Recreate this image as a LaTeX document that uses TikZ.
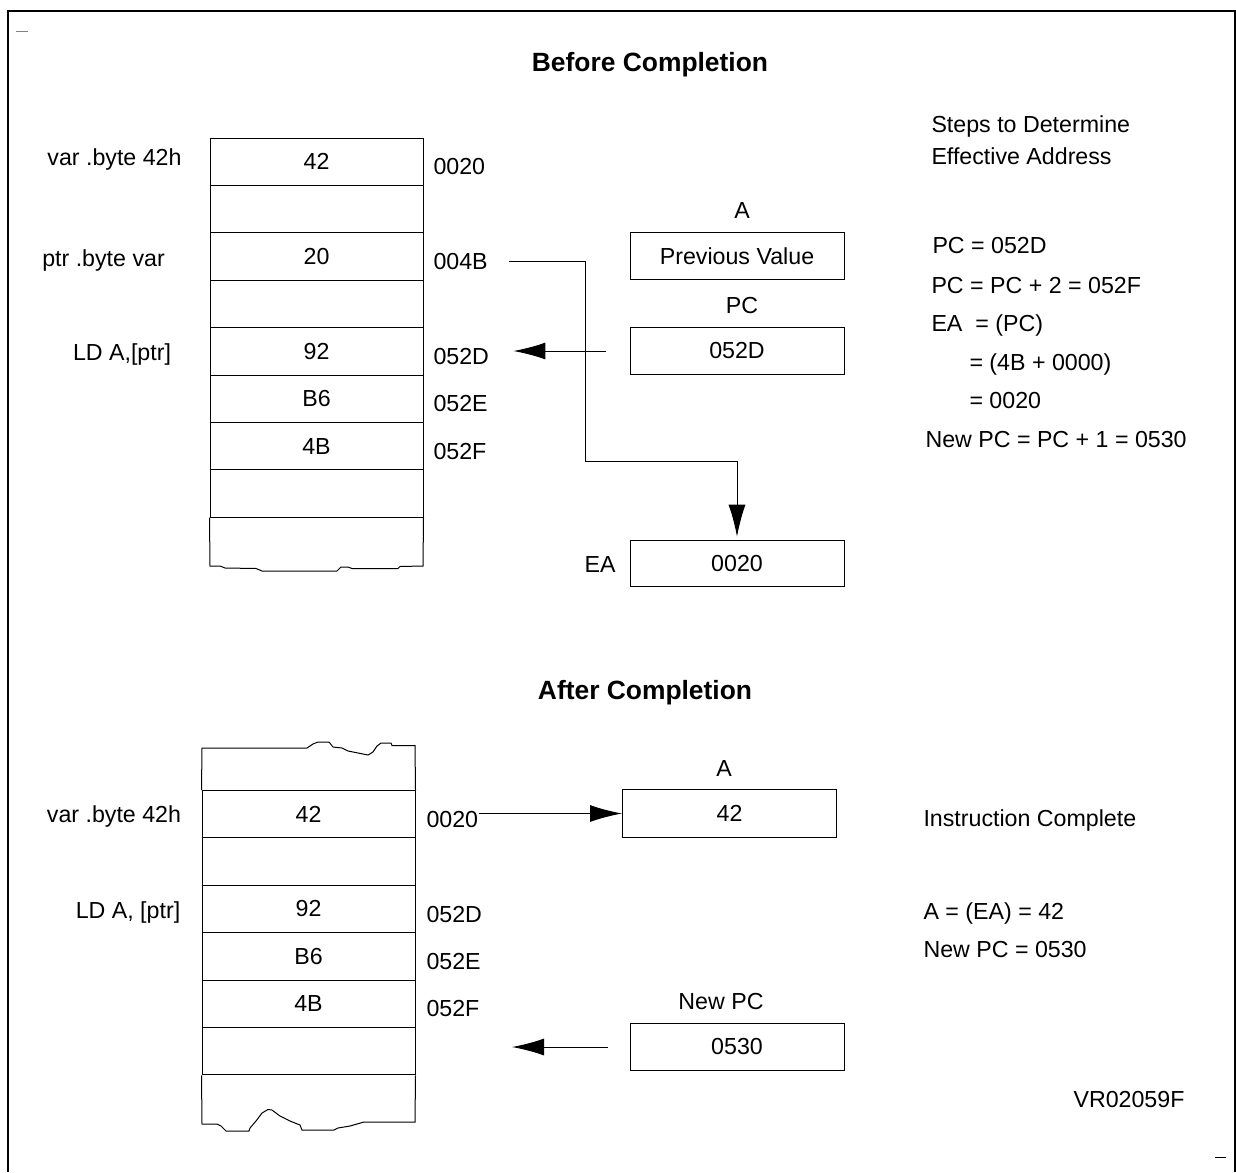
\documentclass[tikz,border=0pt]{standalone}
\usepackage{fontspec}
\setmainfont{Liberation Sans}
\usetikzlibrary{arrows.meta,positioning}

\tikzset{
  cell/.style={draw,minimum width=106.5pt,minimum height=23.7pt,inner sep=0pt},
  box/.style={draw,minimum width=107pt,minimum height=23.8pt,inner sep=0pt},
  txt/.style={inner sep=0pt,text depth=0pt},
  addr/.style={txt,anchor=west},
  ptr/.style={-{Latex[length=16pt,width=8.5pt]}},
  title/.style={txt,font=\fontsize{13.2}{16}\selectfont\bfseries}
}

\begin{document}
\begin{tikzpicture}[x=0.5pt,y=-0.5pt,line width=0.5pt,font=\fontsize{11.6}{14}\selectfont]
\useasboundingbox (0,0) rectangle (1236,1172);
\draw[line width=1pt] (8,1172) -- (8,11) -- (1235,11) -- (1235,1172);
\draw[gray] (16,32) -- (28,32);
\draw (1215,1157) -- (1226,1157);

% before completion
\node[title] (before) at (650,62) {Before Completion};
\foreach \i/\v in {1/42,2/,3/20,4/,5/92,6/B6,7/4B,8/}
  \node[cell] (top\i) at (316.5,{138+47.4*(\i-0.5)}) {\v};
\draw (top8.south west) -- (210,566) -- (220,566) -- (225,568) -- (256,568.5) -- (262,571)
  -- (337,571) -- (341,567) -- (348,567) -- (352,568.5) -- (398,568.5) -- (400,566.5)
  -- (423,566) -- (top8.south east);
\foreach \i/\a in {1/0020,3/004B,5/052D,6/052E,7/052F}
  \node[addr] (ta\i) at (433,{138+47.4*(\i-0.5)+5}) {\a};
\node[txt] (tvar) at (114.5,157) {var .byte 42h};
\node[txt] (tptr) at (103.5,258) {ptr .byte var};
\node[txt] (tld) at (122,352) {LD A,[ptr]};

\node[txt] (alab) at (742,211) {A};
\node[box] (aval) at (737,256) {Previous Value};
\node[txt] (pclab) at (742,305) {PC};
\node[box] (pc) at (737,351) {052D};
\node[txt] (ealab) at (600,565) {EA};
\node[box,minimum height=23.3pt] (ea) at (737,563.5) {0020};
\coordinate (bend) at (585,461);
\draw[ptr,shorten <=12pt,shorten >=12pt] (pc.west) -- (pc.west -| ta5.east);
\draw[ptr,shorten <=10.5pt,shorten >=1.5pt] (ta3.east) -| (bend) -| (ea.north);

\node[addr] (s1) at (931,124) {Steps to Determine};
\node[addr] (s2) at (931,156) {Effective Address};
\node[addr] (s3) at (932,245) {PC = 052D};
\node[addr] (s4) at (931,285) {PC = PC + 2 = 052F};
\node[addr] (s5) at (931,323) {EA\ \ = (PC)};
\node[addr] (s6) at (969,362) {= (4B + 0000)};
\node[addr] (s7) at (969,400) {= 0020};
\node[addr] (s8) at (925,439) {New PC = PC + 1 = 0530};

% after completion
\node[title] (after) at (645,690) {After Completion};
\foreach \i/\v in {1/42,2/,3/92,4/B6,5/4B,6/}
  \node[cell] (bot\i) at (308.5,{790.5+47.4*(\i-0.5)}) {\v};
\draw (bot1.north west) -- (202,748) -- (307,748) -- (313,744) -- (318,742) -- (329,742)
  -- (333,747) -- (342,748) -- (348,751) -- (358,753) -- (368,755) -- (373,752) -- (377,746)
  -- (381,743) -- (391,743) -- (392,745.5) -- (415,745.5) -- (bot1.north east);
\draw (bot6.south west) -- (202,1124) -- (217,1124) -- (221,1126) -- (226,1131) -- (249,1131)
  -- (250,1128) -- (256,1121) -- (262,1113) -- (268,1109.5) -- (272,1110) -- (280,1116)
  -- (290,1121) -- (300,1125) -- (302,1130) -- (334,1130) -- (338,1128) -- (350,1126)
  -- (364,1122) -- (415,1122) -- (bot6.south east);
\foreach \i/\a in {1/0020,3/052D,4/052E,5/052F}
  \node[addr] (ba\i) at (426,{790.5+47.4*(\i-0.5)+5}) {\a};
\node[txt] (bvar) at (114,814) {var .byte 42h};
\node[txt] (bld) at (128,910) {LD A, [ptr]};

\node[txt] (alab2) at (724,769) {A};
\node[box] (a2) at (729.5,813.5) {42};
\draw[ptr] (a2.west -| ba1.east) -- (a2.west);
\node[txt] (npclab) at (721,1001) {New PC};
\node[box] (npc) at (737,1047) {0530};
\coordinate (npctip) at (512,1047);
\draw[ptr,shorten <=11pt] (npc.west) -- (npctip);

\node[addr] (done) at (923,818) {Instruction Complete};
\node[addr] (r1) at (923,911) {A = (EA) = 42};
\node[addr] (r2) at (923,949) {New PC = 0530};
\node[txt] (fig) at (1129,1099) {VR02059F};
\end{tikzpicture}
\end{document}
